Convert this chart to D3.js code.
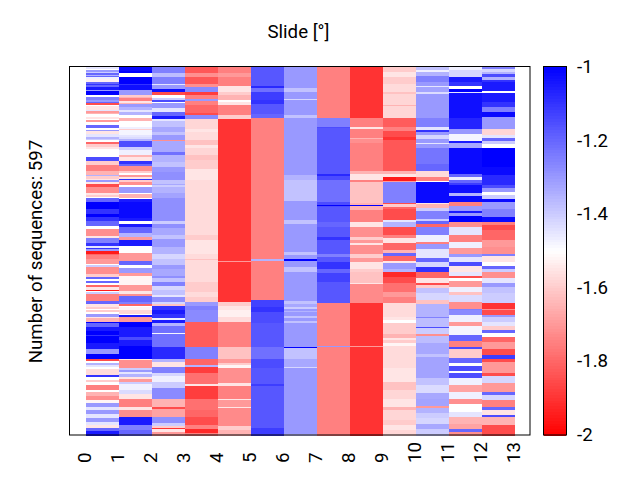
<!DOCTYPE html>
<html><head><meta charset="utf-8">
<script src="https://cdn.jsdelivr.net/npm/d3@7"></script>
<style>html,body{margin:0;padding:0;background:#fff}svg{display:block}text{font-family:Roboto,sans-serif;fill:#000}</style>
</head><body><div id="chart"></div>
<script>
const sequenceCount = 597;
const slides = [0,1,2,3,4,5,6,7,8,9,10,11,12];
const slideTicks = [0,1,2,3,4,5,6,7,8,9,10,11,12,13];
const colorTicks = [-1,-1.2,-1.4,-1.6,-1.8,-2];
// each column: runs of [relative number of sequences, value]
const col0 = [[7,-1.45],[3,-1.5],[5,-1.3],[3,-1.4],[6,-1.2],[4,-1.35],[4,-1.2],[4,-1.47],[9,-1.53],[5,-1.2],[6,-1.1],[6,-1.2],[6,-1.05],[4,-1.3],[13,-1],[5,-1.5],[10,-1.25],[6,-1.3],[4,-1.2],[4,-1.85],[6,-1.5],[10,-1.55],[4,-1.45],[4,-1.7],[6,-1.65],[6,-1.5],[6,-1.55],[4,-1.5],[6,-1.7],[9,-1.5],[9,-1.2],[6,-1.5],[4,-1.3],[8,-1.55],[8,-1.45],[6,-1.35],[6,-1.4],[4,-1.5],[6,-1.8],[10,-1.6],[6,-1.55],[8,-1.5],[16,-1.5],[10,-1.15],[13,-1.6],[20,-1.75],[10,-1.65],[5,-1.35],[8,-1.6],[4,-1.55],[4,-1.3],[6,-1.55],[3,-1.85],
[8,-1.85],[16,-1.72],[6,-1.55],[8,-1.6],[4,-1.5],[10,-1.2],[23,-1],[13,-1.1],[12,-1],[10,-1.1],[15,-1.2],[7,-1.5],[23,-1.72],[8,-1.55],[13,-1.25],[10,-1.1],[4,-1.45],[5,-1.1],[7,-1.3],[6,-1.95],[4,-1.8],[13,-1.75],[13,-1.7],[4,-1.5],[8,-1.4],[20,-1.72],[10,-1.6],[5,-1.2],[5,-1.5],[8,-1.2],[4,-1.5],[8,-1.8],[6,-1.55],[4,-1.95],[5,-1.5],[7,-1.4],[20,-1.75],[10,-1.2],[6,-1.55],[6,-1.6],[7,-1.5],
[5,-1.6],[5,-1.5],[8,-1.3],[4,-1.55],[13,-1.65],[3,-1],[10,-1.2],[12,-1.05],[12,-1],[6,-1.1],[17,-1],[20,-1.05],[15,-1.3],[15,-1],[7,-1.85],[6,-1.5],[4,-1.35],[8,-1.45],[5,-1.5],[20,-1.57],[5,-1.1],[7,-1.5],[8,-1.6],[10,-1.5],[15,-1.75],[5,-1.5],[13,-1.65],[12,-1.72],[8,-1.52],[12,-1.3],[8,-1.45],[14,-1.3],[10,-1.45],[13,-1.3],[10,-1.45],[10,-1.55],[7,-1.2],[13,-1.05]];
const col1 = [[13,-1.02],[6,-1],[13,-1.5],[18,-1],[6,-1.1],[12,-1.03],[16,-1.3],[6,-1.6],[4,-1.65],[8,-1.75],[6,-1.55],[4,-1.65],[8,-1.3],[10,-1.35],[6,-1.45],[8,-1.35],[8,-1.5],[10,-1.65],[18,-1.5],[6,-1.47],[4,-1.6],[15,-1.48],[7,-1.45],[6,-1.43],[4,-1.35],[20,-1.15],[8,-1.4],[15,-1.47],[7,-1.65],[10,-1.55],[10,-1.1],[8,-1.2],[14,-1.72],[6,-1.6],[5,-1.5],[5,-1.7],[8,-1.55],[4,-1.1],[4,-1.6],[9,-1.72],
[5,-1.5],[3,-1.75],[16,-1.3],[4,-1.5],[10,-1.65],[4,-1.5],[10,-1.05],[48,-1.02],[10,-1.05],[7,-1.5],[10,-1.05],[20,-1.2],[8,-1.35],[10,-1.7],[21,-1.05],[18,-1.5],[26,-1.7],[13,-1.2],[8,-1.5],[17,-1.3],[6,-1.7],[26,-1.52],[20,-1.7],[10,-1.55],[6,-1.72],[16,-1.2],[6,-1.25],[8,-1.8],[4,-1.5],[9,-1.52],
[10,-1.58],[4,-1.5],[6,-1.05],[15,-1.7],[15,-1],[30,-1.05],[8,-1.15],[17,-1.05],[40,-1],[5,-1.55],[22,-1.72],[8,-1.4],[6,-1.3],[6,-1.45],[8,-1.35],[6,-1.55],[9,-1.7],[7,-1.4],[18,-1.47],[10,-1.43],[18,-1.55],[22,-1.75],[10,-1.55],[22,-1.72],[23,-1.05],[15,-1.25],[15,-1.2]];
const col2 = [[18,-1.25],[12,-1.37],[20,-1.25],[6,-1.45],[8,-1.3],[10,-1.03],[10,-1.85],[11,-1.5],[5,-1.4],[4,-1.15],[6,-1.5],[14,-1.3],[12,-1.45],[12,-1.2],[7,-1.05],[7,-1.45],[18,-1.38],[14,-1.33],[11,-1.38],[13,-1.3],[5,-1.72],[32,-1.33],[10,-1.22],[20,-1.35],[15,-1.38],[15,-1.3],[25,-1.28],[12,-1.38],[3,-1.33],
[6,-1.4],[18,-1.35],[14,-1.32],[70,-1.28],[7,-1.4],[13,-1.28],[20,-1.33],[14,-1.38],[24,-1.3],[19,-1.35],[15,-1.42],[20,-1.38],[10,-1.3],[22,-1.33],[8,-1.28],[10,-1.38],[12,-1.25],[13,-1.42],[15,-1.38],[6,-1.45],[16,-1.28],[6,-1.42],[4,-1.62],[13,-1.1],
[10,-1.05],[15,-1.1],[5,-1.47],[8,-1.05],[10,-1.35],[20,-1.22],[4,-1.48],[38,-1.22],[35,-1.08],[10,-1.35],[17,-1.55],[16,-1.25],[12,-1.42],[15,-1.47],[17,-1.4],[36,-1.27],[24,-1.65],[6,-1.85],[24,-1.68],[16,-1.28],[10,-1.4],[6,-1.6],[4,-1.9],[7,-1.55],[10,-1.7]];
const col3 = [[18,-1.83],[14,-1.72],[18,-1.83],[10,-1.72],[14,-1.27],[10,-1.88],[12,-1.75],[6,-1.3],[10,-1.75],[26,-1.8],[7,-1.85],[10,-1.27],[30,-1.58],[10,-1.55],[25,-1.57],[15,-1.62],[7,-1.55],[23,-1.58],[15,-1.62],[25,-1.6],[10,-1.55],[25,-1.55],[15,-1.57],
[85,-1.57],[3,-1.65],[62,-1.57],[15,-1.6],[40,-1.55],[15,-1.57],[4,-1.62],[66,-1.57],[30,-1.6],[15,-1.57],[17,-1.6],[10,-1.3],[13,-1.25],
[36,-1.27],[74,-1.82],[35,-1.25],[20,-1.8],[7,-1.35],[18,-1.88],[32,-1.78],[6,-1.55],[37,-1.88],[35,-1.78],[22,-1.8],[23,-1.85],[11,-1.75],[14,-1.92],[5,-1.75]];
const col4 = [[18,-1.75],[14,-1.7],[26,-1.75],[17,-1.55],[10,-1.6],[13,-1.65],[6,-1.5],[10,-1.55],[31,-1.75],[10,-1.6],[200,-1.9],
[228,-1.9],[4,-1.7],[120,-1.9],[10,-1.6],[13,-1.55],
[20,-1.53],[16,-1.57],[74,-1.75],[35,-1.62],[13,-1.7],[7,-1.6],[10,-1.52],[43,-1.72],[10,-1.55],[40,-1.75],[4,-1.55],[20,-1.7],[4,-1.55],[54,-1.73],[10,-1.6],[15,-1.65]];
const col5 = [[58,-1.17],[6,-1.08],[11,-1.22],[25,-1.12],[12,-1.1],[33,-1.17],[10,-1.2],[200,-1.75],
[228,-1.75],[4,-1.35],[120,-1.75],[23,-1.13],[12,-1.1],
[36,-1.15],[74,-1.17],[35,-1.22],[27,-1.15],[48,-1.17],[8,-1.12],[127,-1.17],[20,-1.12]];
const col6 = [[64,-1.3],[13,-1.38],[20,-1.3],[3,-1.42],[45,-1.3],[10,-1.38],[173,-1.3],[16,-1.35],[11,-1.38],
[50,-1.38],[60,-1.3],[10,-1.38],[3,-1.3],[2,-1.42],[79,-1.3],[10,-1.38],[14,-1.3],[4,-1],[18,-1.3],[14,-1.38],[90,-1.3],[8,-1.38],[10,-1.33],[6,-1.4],[6,-1.3],
[4,-1.35],[10,-1.3],[6,-1.38],[10,-1.3],[6,-1.38],[72,-1.3],[3,-1],[34,-1.38],[23,-1.33],[3,-1.42],[201,-1.3],[3,-1.38]];
const col7 = [[154,-1.75],[28,-1.25],[2,-1.15],[138,-1.17],[6,-1.08],[12,-1.15],[15,-1.22],
[50,-1.22],[10,-1.15],[4,-1],[2,-1.15],[44,-1.17],[14,-1.2],[31,-1.17],[10,-1.1],[40,-1.17],[10,-1.25],[15,-1.17],[20,-1.1],[14,-1.2],[26,-1.13],[64,-1.17],[21,-1.75],
[108,-1.75],[3,-1.3],[264,-1.75]];
const col8 = [[154,-1.9],[28,-1.75],[3,-1.55],[27,-1.75],[4,-1.65],[12,-1.72],[84,-1.75],[10,-1.65],[16,-1.55],[6,-1.75],[11,-1.62],
[54,-1.62],[6,-1.65],[3,-1],[12,-1.65],[35,-1.75],[15,-1.55],[30,-1.72],[10,-1.6],[10,-1.7],[5,-1.55],[25,-1.72],[13,-1.6],[14,-1.7],[18,-1.55],[12,-1.6],[30,-1.62],[4,-1.55],[58,-1.73],[21,-1.9],
[108,-1.9],[3,-1.7],[264,-1.9]];
const col9 = [[15,-1.6],[15,-1.55],[20,-1.6],[25,-1.57],[5,-1.62],[35,-1.58],[3,-1.65],[36,-1.58],[28,-1.82],[10,-1.75],[18,-1.85],[10,-1.9],[92,-1.83],[10,-1.65],[8,-1.55],[12,-1.95],[4,-1.7],[9,-1.25],
[52,-1.25],[6,-1.85],[7,-1.6],[7,-1.8],[33,-1.85],[7,-1.45],[13,-1.35],[25,-1.85],[10,-1.75],[12,-1.55],[23,-1.8],[9,-1.65],[10,-1.2],[14,-1.8],[6,-1.55],[16,-1.3],[12,-1.35],[13,-1.92],[20,-1.85],[25,-1.78],[15,-1.7],[19,-1.75],[21,-1.57],
[20,-1.57],[10,-1.55],[10,-1.5],[32,-1.6],[10,-1.65],[8,-1.55],[10,-1.6],[6,-1.52],[69,-1.57],[40,-1.55],[25,-1.62],[25,-1.58],[25,-1.55],[10,-1.65],[30,-1.58],[15,-1.6],[15,-1.55],[15,-1.58]];
const col10 = [[10,-1.38],[5,-1.47],[13,-1.35],[17,-1.25],[13,-1.3],[4,-1.45],[12,-1.32],[6,-1.43],[74,-1.3],[28,-1.25],[8,-1.45],[4,-1.1],[11,-1.3],[11,-1.42],[12,-1.3],[4,-1.45],[10,-1.3],[48,-1.23],[22,-1.2],[18,-1.57],[12,-1.75],[4,-1.5],[9,-1.02],
[52,-1.02],[6,-1.55],[10,-1.65],[10,-1.4],[22,-1.25],[8,-1.4],[8,-1.2],[8,-1.8],[26,-1.25],[20,-1.47],[6,-1.75],[16,-1.3],[26,-1.45],[12,-1.2],[15,-1.42],[17,-1.1],[18,-1.8],[12,-1.55],[6,-1.85],[12,-1.6],[15,-1.38],[20,-1.42],[10,-1.62],[20,-1.35],
[20,-1.35],[6,-1.25],[24,-1.37],[4,-1.15],[18,-1.4],[6,-1.72],[22,-1.37],[30,-1.33],[10,-1.38],[65,-1.32],[20,-1.38],[25,-1.43],[15,-1.33],[3,-1.8],[20,-1.32],[6,-1.7],[16,-1.35],[15,-1.4],[17,-1.42],[16,-1.33],[17,-1.4]];
const col11 = [[10,-1.47],[20,-1.42],[16,-1.05],[12,-1.1],[6,-1.5],[10,-1],[4,-1.45],[76,-1.03],[31,-1.07],[17,-1.3],[20,-1.48],[6,-1.05],[14,-1.33],[78,-1.02],[12,-1.2],[6,-1.47],[10,-1.2],[7,-1.12],
[24,-1.03],[8,-1.35],[18,-1.02],[12,-1.75],[16,-1.3],[6,-1.05],[8,-1.3],[18,-1],[14,-1.72],[24,-1.45],[22,-1.75],[20,-1.47],[15,-1.7],[10,-1.3],[17,-1.45],[10,-1.15],[20,-1.55],[10,-1.45],[8,-1.85],[8,-1.5],[17,-1.7],[15,-1.47],[10,-1.62],[22,-1.43],[20,-1.72],[3,-1.25],
[15,-1.27],[20,-1.47],[13,-1.7],[27,-1.48],[17,-1.2],[18,-1.75],[8,-1.15],[25,-1.6],[17,-1.2],[8,-1.5],[14,-1.15],[8,-1.5],[13,-1.15],[22,-1.47],[20,-1.68],[23,-1.47],[12,-1.72],[25,-1.5],[15,-1.45],[22,-1.65],[16,-1.68],[7,-1.2],[10,-1.72]];
const col12 = [[8,-1.25],[6,-1.42],[8,-1.35],[8,-1.15],[8,-1.35],[8,-1.1],[26,-1.05],[6,-1.5],[27,-1.05],[15,-1.1],[15,-1.25],[15,-1.02],[15,-1.3],[20,-1.3],[20,-1.58],[7,-1.45],[10,-1.2],[10,-1.4],[10,-1.5],[58,-1],[25,-1.02],[30,-1.08],
[8,-1.15],[10,-1.3],[12,-1.5],[12,-1.4],[8,-1.02],[20,-1.3],[25,-1.25],[15,-1.02],[10,-1.75],[15,-1.85],[30,-1.8],[20,-1.7],[20,-1.72],[7,-1.25],[18,-1.55],[12,-1.5],[8,-1.2],[12,-1.4],[18,-1.72],[15,-1.45],[10,-1.3],[20,-1.38],[29,-1.4],[18,-1.9],[3,-1.72],
[15,-1.85],[7,-1.3],[13,-1.4],[13,-1.45],[12,-1.6],[10,-1.2],[10,-1.5],[15,-1.8],[23,-1.7],[17,-1.85],[10,-1.12],[10,-1.85],[35,-1.7],[10,-1.85],[20,-1.42],[25,-1.7],[10,-1.2],[15,-1.42],[20,-1.75],[10,-1.2],[15,-1.55],[5,-1.15],[25,-1.65],[30,-1.85]];
const columns = [col0,col1,col2,col3,col4,col5,col6,col7,col8,col9,col10,col11,col12];

const frame = {left:70, right:530, top:67, bottom:435};
const fontSize = 18.67;
const svg = d3.select("#chart").append("svg").attr("width",640).attr("height",480);
const x = d3.scaleLinear().domain([0,13]).range([86,515]);
const y = d3.scaleLinear().domain([0,sequenceCount]).range([frame.top,frame.bottom]);
const color = d3.scaleLinear().domain([-2,-1.5,-1]).range(["#ff0000","#ffffff","#0000ff"]);

const segs = [];
columns.forEach((runs,i)=>{
  const sum = d3.sum(runs,r=>r[0]); let c = 0;
  runs.forEach(r=>{
    const a = Math.round(c*sequenceCount/sum); c += r[0];
    const b = Math.round(c*sequenceCount/sum);
    if (b>a) segs.push({col:slides[i],a,b,v:r[1]});
  });
});
svg.append("g").selectAll("rect").data(segs).join("rect")
  .attr("x",d=>x(d.col)).attr("width",d=>x(d.col+1)-x(d.col))
  .attr("y",d=>y(d.a)).attr("height",d=>y(d.b)-y(d.a)+0.5)
  .attr("fill",d=>color(d.v)).attr("shape-rendering","crispEdges");
svg.append("rect").attr("x",frame.left-0.5).attr("y",frame.top-0.5)
  .attr("width",frame.right-frame.left+0.5).attr("height",frame.bottom-frame.top+0.5)
  .attr("fill","none").attr("stroke","#000").attr("stroke-width",1);

const xAxis = svg.append("g").attr("transform",`translate(0,${frame.bottom})`)
  .call(d3.axisBottom(x).tickValues(slideTicks).tickSize(0).tickFormat(d3.format("d")));
xAxis.select(".domain").remove();
xAxis.selectAll("text").attr("font-family","Roboto").attr("font-size",fontSize)
  .attr("text-anchor","start").attr("transform","translate(-2,0) rotate(-90)")
  .attr("x",-28).attr("y",0).attr("dy","0.35em");

// colour bar
const cbY = d3.scaleLinear().domain([-1,-2]).range([frame.top,frame.bottom]);
const cbSteps = d3.range(0,128).map(i=>-1-i/128);
svg.append("g").selectAll("rect").data(cbSteps).join("rect")
  .attr("x",544).attr("width",22).attr("y",d=>cbY(d)).attr("height",369/128+0.5)
  .attr("fill",d=>color(d-1/256)).attr("shape-rendering","crispEdges");
svg.append("rect").attr("x",543.5).attr("y",frame.top-0.5).attr("width",23).attr("height",frame.bottom-frame.top+0.5)
  .attr("fill","none").attr("stroke","#000");
const cAxis = svg.append("g").attr("transform","translate(577,0)")
  .call(d3.axisRight(cbY).tickValues(colorTicks).tickSize(0).tickPadding(0).tickFormat(d=>String(d)));
cAxis.select(".domain").remove();
cAxis.selectAll("text").attr("font-family","Roboto").attr("font-size",fontSize).attr("y",-0.5);

svg.append("text").attr("x",298.5).attr("y",38).attr("text-anchor","middle").attr("font-size",fontSize).text("Slide [°]");
svg.append("text").attr("transform","translate(42,251.5) rotate(-90)").attr("text-anchor","middle").attr("font-size",fontSize).text("Number of sequences: "+sequenceCount);
</script></body></html>
